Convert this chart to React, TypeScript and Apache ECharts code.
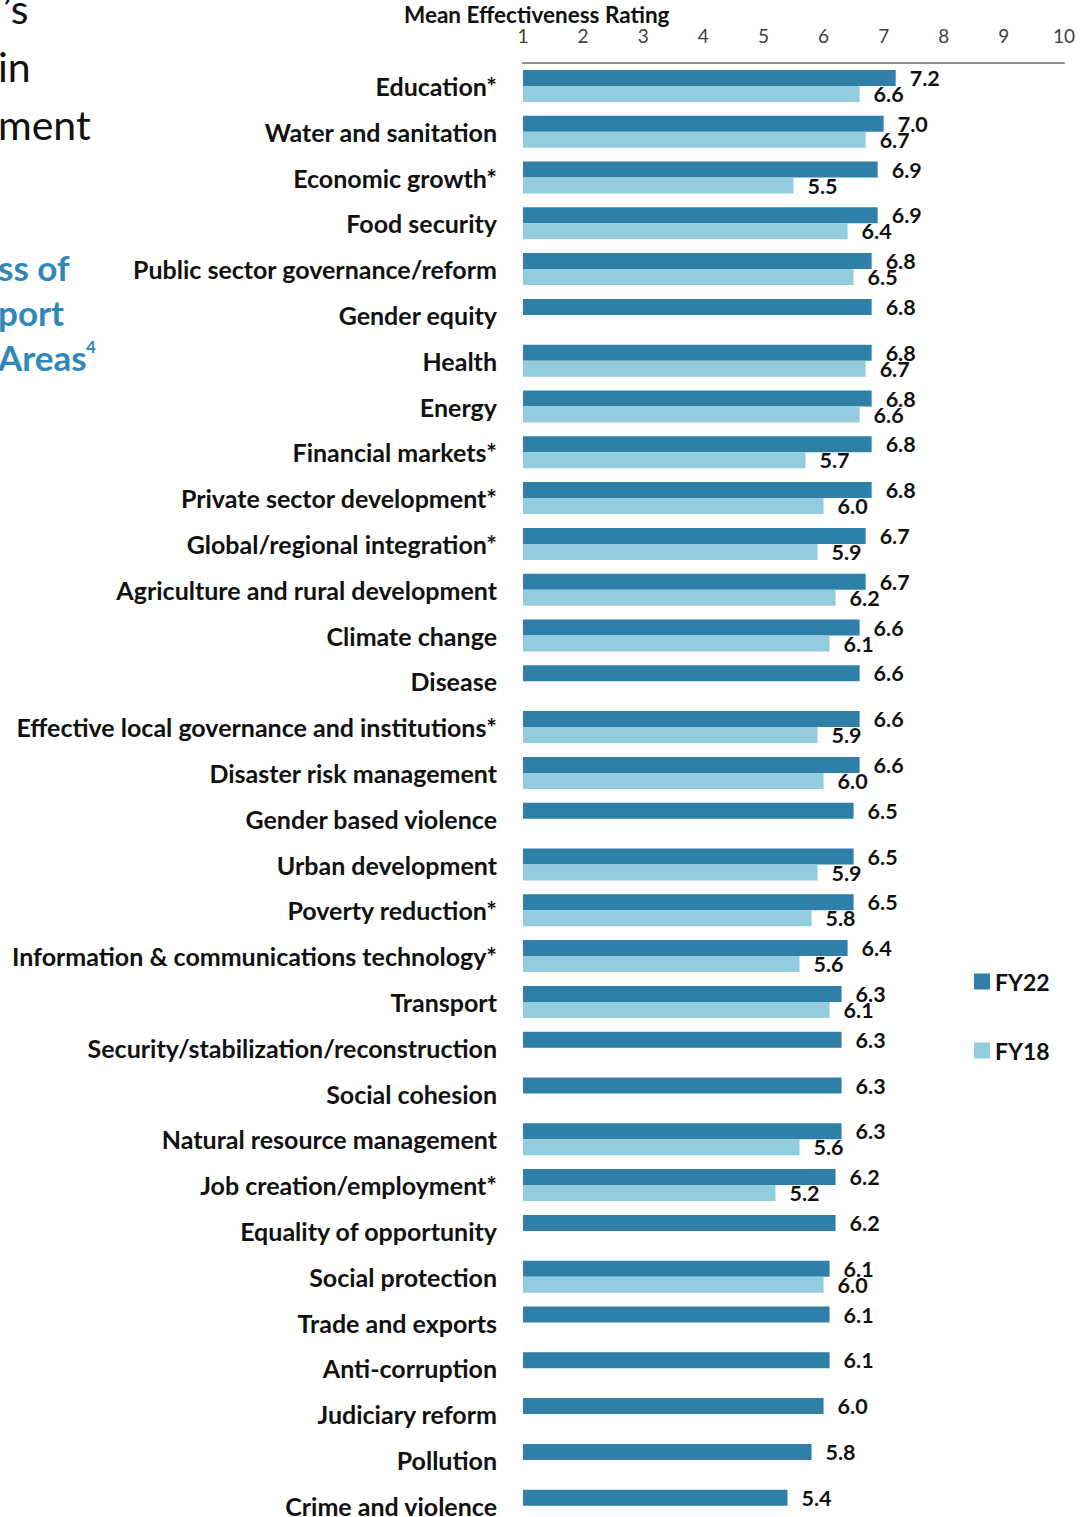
import React, { useEffect, useRef } from "react";
import * as echarts from "echarts";

const categories = [
  "Education*",
  "Water and sanitation",
  "Economic growth*",
  "Food security",
  "Public sector governance/reform",
  "Gender equity",
  "Health",
  "Energy",
  "Financial markets*",
  "Private sector development*",
  "Global/regional integration*",
  "Agriculture and rural development",
  "Climate change",
  "Disease",
  "Effective local governance and institutions*",
  "Disaster risk management",
  "Gender based violence",
  "Urban development",
  "Poverty reduction*",
  "Information & communications technology*",
  "Transport",
  "Security/stabilization/reconstruction",
  "Social cohesion",
  "Natural resource management",
  "Job creation/employment*",
  "Equality of opportunity",
  "Social protection",
  "Trade and exports",
  "Anti-corruption",
  "Judiciary reform",
  "Pollution",
  "Crime and violence",
];

const fy22 = [
  7.2, 7.0, 6.9, 6.9, 6.8, 6.8, 6.8, 6.8, 6.8, 6.8, 6.7, 6.7, 6.6, 6.6, 6.6, 6.6,
  6.5, 6.5, 6.5, 6.4, 6.3, 6.3, 6.3, 6.3, 6.2, 6.2, 6.1, 6.1, 6.1, 6.0, 5.8, 5.4,
];

const fy18 = [
  6.6, 6.7, 5.5, 6.4, 6.5, null, 6.7, 6.6, 5.7, 6.0, 5.9, 6.2, 6.1, null, 5.9, 6.0,
  null, 5.9, 5.8, 5.6, 6.1, null, null, 5.6, 5.2, null, 6.0, null, null, null, null, null,
];

const seriesNames = ["FY22", "FY18"];
const axisTitle = "Mean Effectiveness Rating";
const titleLines = ["\u2019s", "in", "ment"];
const subtitleLines = ["ss of", "port", "Areas"];

const DARK = "#2F80A9";
const LIGHT = "#93CCDE";
const BLUE_TEXT = "#2F88BA";
const FONT = "Lato, 'Open Sans', sans-serif";

export default function App() {
  const ref = useRef<HTMLDivElement>(null);

  useEffect(() => {
    if (!ref.current) return;
    const chart = echarts.init(ref.current, null, { renderer: "svg" });
    const labelStyle = {
      show: true,
      position: "right",
      distance: 14,
      fontFamily: FONT,
      fontWeight: "bold",
      fontSize: 21.5,
      color: "#111",
      formatter: (p: any) => (p.value == null ? "" : Number(p.value).toFixed(1)),
    };
    chart.setOption({
      animation: false,
      backgroundColor: "#ffffff",
      textStyle: { fontFamily: FONT },
      grid: { left: 523, width: 541, top: 63, height: 32 * 45.8 },
      xAxis: {
        type: "value",
        position: "top",
        min: 1,
        max: 10,
        interval: 1,
        axisLine: { show: true, lineStyle: { color: "#8f8f8f", width: 2 } },
        axisTick: { show: false },
        splitLine: { show: false },
        axisLabel: { fontFamily: FONT, fontSize: 19, color: "#404040", margin: 18 },
      },
      yAxis: {
        type: "category",
        inverse: true,
        data: categories,
        axisLine: { show: false },
        axisTick: { show: false },
        axisLabel: {
          fontFamily: FONT,
          fontWeight: "bold",
          fontSize: 25,
          color: "#111",
          margin: 26,
        },
      },
      legend: {
        orient: "vertical",
        left: 969,
        top: 965,
        itemWidth: 16,
        itemHeight: 16,
        itemGap: 46,
        icon: "rect",
        data: seriesNames,
        textStyle: {
          fontFamily: FONT,
          fontWeight: "bold",
          fontSize: 23,
          color: "#111",
          lineHeight: 22,
        },
      },
      series: [
        {
          name: seriesNames[0],
          type: "bar",
          data: fy22,
          barWidth: 16,
          barGap: "0%",
          itemStyle: { color: DARK },
          label: labelStyle,
        },
        {
          name: seriesNames[1],
          type: "bar",
          data: fy18,
          barWidth: 16,
          barGap: "0%",
          itemStyle: { color: LIGHT },
          label: labelStyle,
        },
      ],
      graphic: [
        {
          type: "text",
          left: 404,
          top: 3,
          style: {
            text: axisTitle,
            fontFamily: FONT,
            fontWeight: "bold",
            fontSize: 22.5,
            fill: "#111",
          },
        },
        ...titleLines.map((t, i) => ({
          type: "text",
          x: i === 0 ? 3 : -2,
          y: -12 + i * 58,
          style: { text: t, fontFamily: FONT, fontSize: 41, fill: "#111" },
        })),
        ...subtitleLines.map((t, i) => ({
          type: "text",
          x: -2,
          y: 249 + i * 45,
          style: {
            text: t,
            fontFamily: FONT,
            fontWeight: "bold",
            fontSize: 35,
            fill: BLUE_TEXT,
          },
        })),
        {
          type: "text",
          x: 86,
          y: 338,
          style: {
            text: "4",
            fontFamily: FONT,
            fontWeight: "bold",
            fontSize: 17,
            fill: BLUE_TEXT,
          },
        },
      ],
    });
    return () => chart.dispose();
  }, []);

  return (
    <div
      style={{
        position: "absolute",
        left: 0,
        top: 0,
        width: 1087,
        height: 1517,
        overflow: "hidden",
      }}
    >
      <div ref={ref} style={{ width: 1087, height: 1545 }} />
    </div>
  );
}
